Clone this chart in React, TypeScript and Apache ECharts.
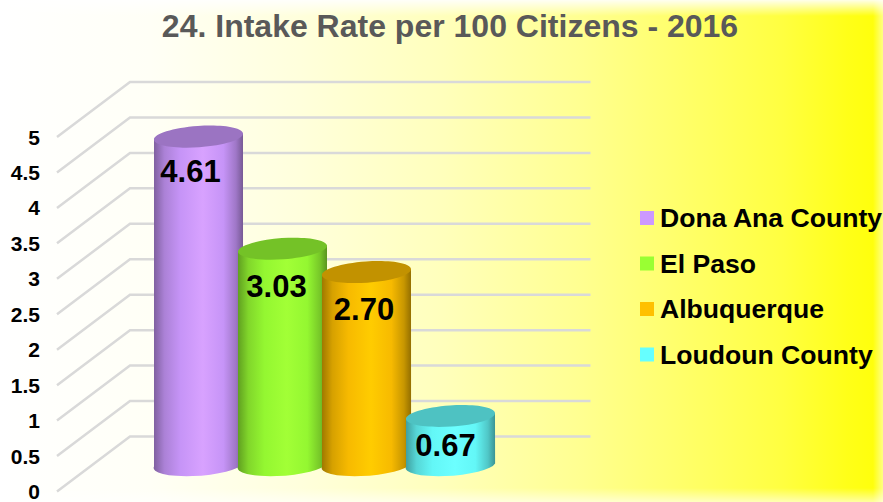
import React, { useEffect, useRef } from "react";
import * as echarts from "echarts";

const TITLE = "24. Intake Rate per 100 Citizens - 2016";
const categories = ["Dona Ana County", "El Paso", "Albuquerque", "Loudoun County"];
const values = [4.61, 3.03, 2.7, 0.67];
const colors = ["#CC99FF", "#99FF33", "#FFC000", "#66FFFF"];
const tickValues = [0, 0.5, 1, 1.5, 2, 2.5, 3, 3.5, 4, 4.5, 5];

const FONT = '"Liberation Sans", Arial, sans-serif';
const RX = 44.6;
const RY = 10.6;
const TILT = 4;
const DEPTH_Y = 28;
const labelNudge = [[-8, 35], [-6, 38], [-2.5, 37], [-5, 30]];

function shade(hex: string, f: number) {
  const n = parseInt(hex.slice(1), 16);
  const ch = [(n >> 16) & 255, (n >> 8) & 255, n & 255].map((c) => Math.min(255, Math.round(c * f)));
  return `rgb(${ch[0]},${ch[1]},${ch[2]})`;
}

function cylinder(i: number) {
  return (params: any, api: any) => {
    const top = api.coord([api.value(0), api.value(1)]);
    const base = api.coord([api.value(0), 0]);
    const cx = top[0];
    const ty = top[1] - DEPTH_Y;
    const by = base[1] - DEPTH_Y;
    const t = (TILT * Math.PI) / 180;
    const dx = RX * Math.cos(t);
    const dy = RX * Math.sin(t);
    const body = `M${cx - dx} ${ty + dy}L${cx - dx} ${by + dy}A${RX} ${RY} ${-TILT} 0 0 ${cx + dx} ${by - dy}L${cx + dx} ${ty - dy}Z`;
    const c = colors[i];
    return {
      type: "group",
      children: [
        {
          type: "path",
          shape: { pathData: body },
          style: {
            fill: new echarts.graphic.LinearGradient(0, 0, 1, 0, [
              { offset: 0, color: shade(c, 0.62) },
              { offset: 0.12, color: shade(c, 0.84) },
              { offset: 0.3, color: shade(c, 0.97) },
              { offset: 0.55, color: shade(c, 1.06) },
              { offset: 0.78, color: shade(c, 0.97) },
              { offset: 0.92, color: shade(c, 0.78) },
              { offset: 1, color: shade(c, 0.58) },
            ]),
          },
        },
        {
          type: "ellipse",
          shape: { cx: 0, cy: 0, rx: RX, ry: RY },
          x: cx,
          y: ty,
          rotation: t,
          style: { fill: shade(c, 0.76) },
        },
        {
          type: "text",
          x: cx + labelNudge[i][0],
          y: ty + labelNudge[i][1],
          style: {
            text: api.value(1).toFixed(2),
            fill: "#000",
            font: `bold 31px ${FONT}`,
            textAlign: "center",
            textVerticalAlign: "middle",
          },
        },
      ],
    };
  };
}

function fade(x: number, y: number, w: number, h: number, g: number[], alpha: number) {
  return {
    type: "rect",
    silent: true,
    z: 0,
    shape: { x, y, width: w, height: h },
    style: {
      fill: new echarts.graphic.LinearGradient(g[0], g[1], g[2], g[3], [
        { offset: 0, color: `rgba(255,255,255,${alpha})` },
        { offset: 1, color: "rgba(255,255,255,0)" },
      ]),
    },
  };
}

export default function App() {
  const ref = useRef<HTMLDivElement>(null);
  useEffect(() => {
    const chart = echarts.init(ref.current!, undefined, { renderer: "svg" });
    chart.setOption({
      animation: false,
      color: colors,
      backgroundColor: new echarts.graphic.LinearGradient(0, 0, 1, 0, [
        { offset: 0, color: "#FFFFFF" },
        { offset: 0.17, color: "#FFFFF6" },
        { offset: 0.34, color: "#FFFFDC" },
        { offset: 0.5, color: "#FFFFBC" },
        { offset: 0.66, color: "#FFFF90" },
        { offset: 0.8, color: "#FFFF60" },
        { offset: 0.887, color: "#FFFF40" },
        { offset: 0.96, color: "#FFFF18" },
        { offset: 1, color: "#FFFF08" },
      ]),
      graphic: [
        fade(0, 0, 883, 16, [0, 0, 0, 1], 0.9),
        fade(0, 488, 883, 14, [0, 1, 0, 0], 0.6),
        fade(873, 0, 10, 502, [1, 0, 0, 0], 0.5),
      ],
      title: {
        text: TITLE,
        left: 445,
        top: 5,
        textAlign: "center",
        textStyle: { fontFamily: FONT, fontSize: 32, fontWeight: "bold", color: "#595959" },
      },
      grid: { left: 156.5, top: 137, width: 336, height: 356 },
      xAxis: { type: "category", data: categories, axisLine: { show: false }, axisTick: { show: false }, axisLabel: { show: false }, splitLine: { show: false } },
      yAxis: {
        type: "value",
        min: 0,
        max: 5,
        interval: 0.5,
        axisLine: { show: false },
        axisTick: { show: false },
        splitLine: { show: false },
        axisLabel: { margin: 116.5, fontFamily: FONT, fontSize: 21, fontWeight: "bold", color: "#000" },
      },
      legend: {
        orient: "vertical",
        left: 635,
        top: 198,
        itemWidth: 14,
        itemHeight: 14,
        itemGap: 15.5,
        icon: "rect",
        data: categories,
        textStyle: { fontFamily: FONT, fontSize: 26.6, fontWeight: "bold", color: "#000", lineHeight: 30, padding: [0, 0, 0, 1] },
      },
      series: [
        {
          type: "custom",
          name: "gridlines",
          silent: true,
          clip: false,
          encode: { y: 0 },
          data: tickValues.map((v) => [v]),
          renderItem: (params: any, api: any) => {
            const p = api.coord([0, api.value(0)]);
            const y = p[1];
            return {
              type: "polyline",
              shape: { points: [[57, y], [130, y - 55], [590.5, y - 55]] },
              style: { stroke: "#D9D9D9", lineWidth: 2.5, fill: "none" },
            };
          },
        },
        ...categories.map((name, i) => ({
          type: "custom",
          name,
          clip: false,
          itemStyle: { color: colors[i] },
          encode: { x: 0, y: 1 },
          data: [[i, values[i]]],
          renderItem: cylinder(i),
          z: 3 + i,
        })),
      ],
    });
    return () => chart.dispose();
  }, []);
  return <div ref={ref} style={{ position: "fixed", left: 0, top: 0, width: 883, height: 502 }} />;
}
